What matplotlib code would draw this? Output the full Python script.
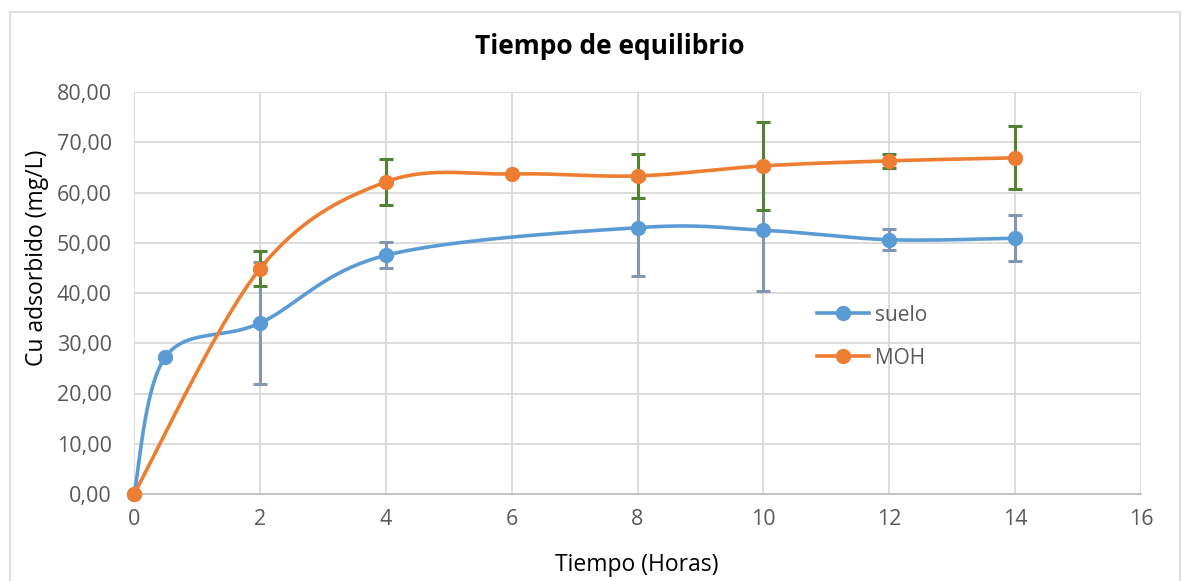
import numpy as np
import matplotlib
matplotlib.use("Agg")
import matplotlib.pyplot as plt
from matplotlib.patches import Rectangle

# ---- data ----
suelo_x = [0, 0.5, 2, 4, 8, 10, 12, 14]
suelo_y = [0.0, 27.3, 34.0, 47.5, 53.0, 52.5, 50.6, 50.9]
suelo_err = [0, 0, 12.1, 2.6, 9.6, 12.2, 2.1, 4.6]

moh_x = [0, 2, 4, 6, 8, 10, 12, 14]
moh_y = [0.0, 44.8, 62.1, 63.7, 63.3, 65.3, 66.3, 66.9]
moh_err = [0, 3.5, 4.6, 0, 4.4, 8.7, 1.4, 6.3]

x_ticks = [0, 2, 4, 6, 8, 10, 12, 14, 16]
y_ticks = [0, 10, 20, 30, 40, 50, 60, 70, 80]
y_tick_labels = ["0,00", "10,00", "20,00", "30,00", "40,00", "50,00", "60,00", "70,00", "80,00"]

plt.rcParams['font.family'] = ['Open Sans', 'DejaVu Sans']


def smooth(xs, ys, n=40):
    p = np.column_stack([xs, ys]).astype(float)
    out = [p[0]]
    m = len(p)
    for i in range(m - 1):
        p0 = p[i - 1] if i > 0 else p[i]
        p1 = p[i]
        p2 = p[i + 1]
        p3 = p[i + 2] if i + 2 < m else p[i + 1]
        c1 = p1 + (p2 - p0) / 6.0
        c2 = p2 - (p3 - p1) / 6.0
        t = np.linspace(0, 1, n)[1:, None]
        seg = ((1 - t) ** 3) * p1 + 3 * ((1 - t) ** 2) * t * c1 + 3 * (1 - t) * t ** 2 * c2 + t ** 3 * p2
        out.extend(seg)
    out = np.array(out)
    return out[:, 0], out[:, 1]


fig = plt.figure(figsize=(11.87, 5.81), dpi=100)
ax = fig.add_axes([134 / 1187, 1 - 494 / 581, (1141 - 134) / 1187, (494 - 92) / 581])

# frame of chart area
fig.patches.append(Rectangle((10 / 1187, -0.05), (1180 - 10) / 1187, 1 - 12 / 581 + 0.05,
                             transform=fig.transFigure, fill=False, edgecolor='#D9D9D9', lw=1.2))

blue = '#5B9BD5'
orange = '#ED7D31'
eb_blue = '#8497B0'
eb_green = '#548235'

# suelo
ax.errorbar(suelo_x, suelo_y, yerr=suelo_err, fmt='none', ecolor=eb_blue, elinewidth=2.2,
            capsize=5, capthick=2.2, zorder=3)
sx, sy = smooth(suelo_x, suelo_y)
ax.plot(sx, sy, color=blue, lw=2.6, zorder=4, solid_capstyle='round', clip_on=False)
ax.plot(suelo_x, suelo_y, 'o', color=blue, ms=10, zorder=5, clip_on=False)
ax.plot([], [], '-o', color=blue, lw=2.6, ms=10, label='suelo')

# MOH
ax.errorbar(moh_x, moh_y, yerr=moh_err, fmt='none', ecolor=eb_green, elinewidth=2.2,
            capsize=5, capthick=2.2, zorder=6)
mx, my = smooth(moh_x, moh_y)
ax.plot(mx, my, color=orange, lw=2.6, zorder=7, solid_capstyle='round', clip_on=False)
ax.plot(moh_x, moh_y, 'o', color=orange, ms=10, zorder=8, clip_on=False)
ax.plot([], [], '-o', color=orange, lw=2.6, ms=10, label='MOH')

ax.set_xlim(0, 16)
ax.set_ylim(0, 80)
ax.set_xticks(x_ticks)
ax.set_yticks(y_ticks)
ax.set_yticklabels(y_tick_labels)
ax.grid(True, color='#D9D9D9', lw=1.3)
ax.set_axisbelow(True)
for s in ['top', 'right', 'left']:
    ax.spines[s].set_visible(False)
ax.spines['bottom'].set_color('#BFBFBF')
ax.spines['bottom'].set_linewidth(1.3)
ax.tick_params(axis='both', length=0, labelsize=15.5, labelcolor='#595959')
ax.tick_params(axis='x', pad=11)
ax.tick_params(axis='y', pad=16)

fig.text(610 / 1187, 1 - 47 / 581, 'Tiempo de equilibrio', ha='center', va='center',
         fontsize=19, fontweight='bold', color='black')
fig.text(637 / 1187, 1 - 565 / 581, 'Tiempo (Horas)', ha='center', va='center',
         fontsize=16.5, color='black')
fig.text(37 / 1187, 1 - 258 / 581, 'Cu adsorbido (mg/L)', ha='center', va='center',
         fontsize=16.5, color='black', rotation=90)

leg = ax.legend(loc='upper left', bbox_to_anchor=(664 / 1007, (494 - 286) / 402), frameon=False,
                fontsize=15, handlelength=2.5, labelspacing=1.05, handletextpad=0.3)
for t in leg.get_texts():
    t.set_color('#595959')

fig.savefig('out.png', dpi=100)
